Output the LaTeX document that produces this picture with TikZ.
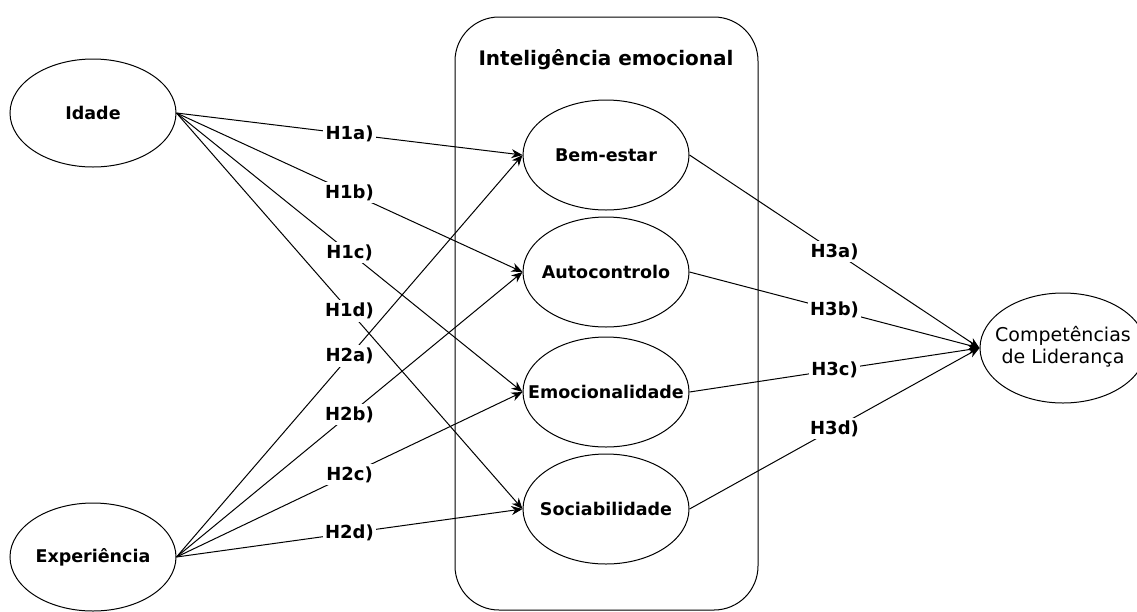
\documentclass[tikz,border=0pt]{standalone}
\usepackage{fontspec}
\setmainfont{DejaVu Sans}
\usetikzlibrary{shapes.geometric,arrows.meta}

\tikzset{
  oval/.style={draw, ellipse, line width=1pt, minimum width=166, minimum height=110, inner sep=0pt,
    font=\fontsize{17.5}{20}\selectfont\bfseries},
  link/.style={line width=1pt},
  arr/.style={link, -{Stealth[length=11pt,width=9pt,inset=3.5pt]}},
  lbl/.style={fill=white, inner sep=2.5pt, font=\fontsize{18}{20}\selectfont\bfseries},
}

\begin{document}
\begin{tikzpicture}[x=1pt, y=-1pt]
\useasboundingbox (0,0) rectangle (1137,611);

% Grouping frame for the emotional-intelligence factors
\node[draw, line width=1pt, rounded corners=44, minimum width=303, minimum height=593, inner sep=0pt]
  (ie) at (606.5,313.5) {};
\node[font=\fontsize{20}{22}\selectfont\bfseries] (ietitle) at (606,60) {Inteligência emocional};

% Antecedents
\node[oval, minimum height=108] (idade) at (93,113) {\makebox[0pt]{Idade}};
\node[oval, minimum height=108] (exp) at (93,557) {\makebox[0pt]{Experiência}};

% Emotional-intelligence factors
\node[oval] (bem) at (606,155) {\makebox[0pt]{Bem-estar}};
\node[oval] (auto) at (606,272) {\makebox[0pt]{Autocontrolo}};
\node[oval] (emo) at (606,392) {\makebox[0pt]{Emocionalidade}};
\node[oval] (soc) at (606,509) {\makebox[0pt]{Sociabilidade}};

% Outcome
\node[oval, font=\fontsize{19}{23}\selectfont] (comp) at (1063,348)
  {\makebox[0pt]{\begin{tabular}{@{}c@{}}Competências\\[-1pt]de Liderança\end{tabular}}};

% H1: age -> factors
\draw[arr] (idade.east) -- node[lbl] {H1a)} (bem.west);
\draw[arr] (idade.east) -- node[lbl] {H1b)} (auto.west);
\draw[arr] (idade.east) -- node[lbl] {H1c)} (emo.west);
\draw[arr] (idade.east) -- node[lbl] {H1d)} (soc.west);

% H2: experience -> factors
\draw[arr] (exp.east) -- node[lbl] {H2a)} (bem.west);
\draw[arr] (exp.east) -- node[lbl] {H2b)} (auto.west);
\draw[arr] (exp.east) -- node[lbl] {H2c)} (emo.west);
\draw[arr] (exp.east) -- node[lbl] {H2d)} (soc.west);

% H3: factors -> leadership competences
\draw[arr] (bem.east) -- node[lbl] {H3a)} (comp.west);
\draw[arr] (auto.east) -- node[lbl] {H3b)} (comp.west);
\draw[arr] (emo.east) -- node[lbl] {H3c)} (comp.west);
\draw[arr] (soc.east) -- node[lbl] {H3d)} (comp.west);
\end{tikzpicture}
\end{document}
